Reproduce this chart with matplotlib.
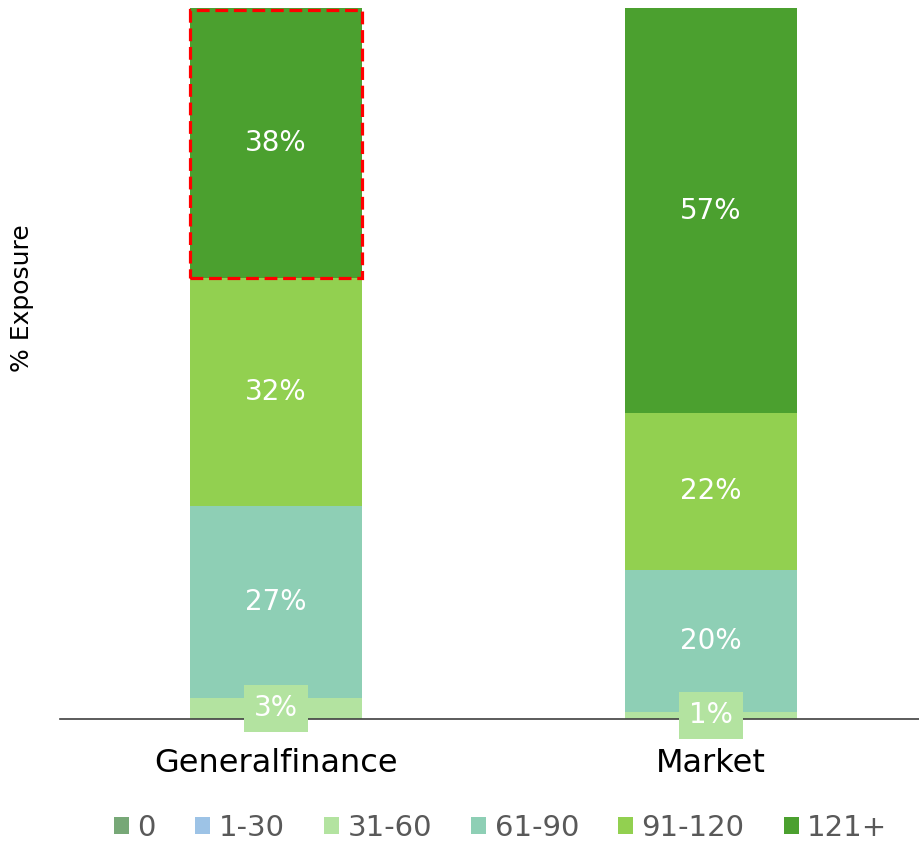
import matplotlib.pyplot as plt
import matplotlib.patches as mpatches

plt.rcParams['font.family'] = ['DejaVu Sans']

categories = ['Generalfinance', 'Market']
buckets = ['0', '1-30', '31-60', '61-90', '91-120', '121+']
values = {
    '0':      [0, 0],
    '1-30':   [0, 0],
    '31-60':  [3, 1],
    '61-90':  [27, 20],
    '91-120': [32, 22],
    '121+':   [38, 57],
}
colors = ['#77A877', '#9DC3E6', '#B3E3A0', '#8ECFB5', '#92D050', '#4BA02F']

fig = plt.figure(figsize=(9.19, 8.43), dpi=100)
ax = fig.add_axes([60 / 919, 1 - 719 / 843, 1 - 60 / 919, 711 / 843])

x = list(range(len(categories)))
width = 0.395
bottom = [0.0] * len(categories)
for name, col in zip(buckets, colors):
    vals = values[name]
    ax.bar(x, vals, width, bottom=bottom, color=col, label=name)
    for i, v in enumerate(vals):
        if v > 0:
            yc = bottom[i] + v / 2
            if v < 5:
                # small slices get a filled box, as in the source
                ax.text(x[i], yc, f'{v}%', ha='center', va='center', color='white',
                        fontsize=20, bbox=dict(boxstyle='square,pad=0.35', fc=col, ec='none'))
            else:
                ax.text(x[i], yc, f'{v}%', ha='center', va='center', color='white', fontsize=20)
    bottom = [b + v for b, v in zip(bottom, vals)]

# highlight the 121+ block of the first bar
b0 = values['31-60'][0] + values['61-90'][0] + values['91-120'][0]
rect = mpatches.Rectangle((x[0] - width / 2, b0), width, values['121+'][0] - 0.3,
                          fill=False, ec='red', lw=2.3, ls=(0, (4, 1.8)), zorder=5, clip_on=False)
ax.add_patch(rect)

ax.set_xlim(-0.4966, 1.478)
ax.set_ylim(0, 100)
ax.set_xticks(x)
ax.set_xticklabels(categories, fontsize=23)
ax.tick_params(axis='x', length=0, pad=21)
ax.set_yticks([])
for s in ['top', 'right', 'left']:
    ax.spines[s].set_visible(False)
ax.spines['bottom'].set_color('#404040')
ax.spines['bottom'].set_linewidth(1.2)

fig.text(22 / 919, 1 - 298 / 843, '% Exposure', rotation=90, ha='center', va='center', fontsize=18)

leg = fig.legend(loc='center', bbox_to_anchor=(0.545, 1 - 828 / 843), ncol=6, frameon=False,
                 fontsize=21, handlelength=0.5, handleheight=0.5, handletextpad=0.3,
                 columnspacing=1.35, labelcolor='#595959')

fig.savefig('out.png', dpi=100)
